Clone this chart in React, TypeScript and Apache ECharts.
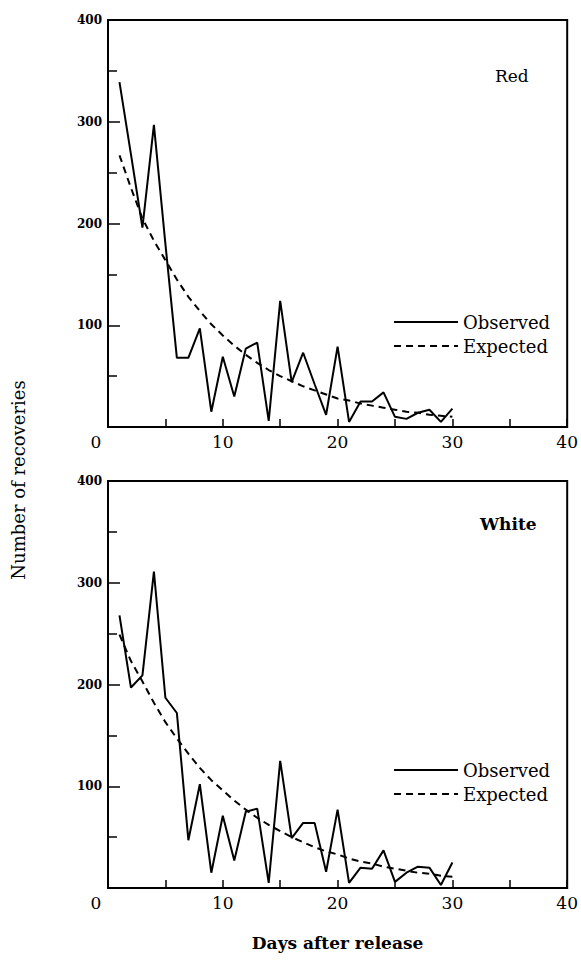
import { useEffect, useRef } from 'react';
import * as echarts from 'echarts';

const days = [1, 2, 3, 4, 5, 6, 7, 8, 9, 10, 11, 12, 13, 14, 15, 16, 17, 18, 19, 20, 21, 22, 23, 24, 25, 26, 27, 28, 29, 30];

const redObserved = [339, 268, 196, 297, 180, 68, 68, 97, 15, 69, 30, 77, 83, 6, 124, 44, 73, 42, 12, 79, 5, 25, 25, 34, 10, 8, 14, 17, 5, 18];
const redExpected = [267, 235, 205, 183, 164, 145, 128, 114, 101, 90, 80, 71, 63, 56, 50, 45, 40, 36, 32, 28, 26, 23, 21, 19, 17, 15, 14, 12, 11, 10];

const whiteObserved = [268, 197, 209, 311, 187, 172, 47, 102, 15, 71, 27, 75, 78, 5, 125, 49, 64, 64, 16, 77, 5, 20, 19, 37, 6, 15, 21, 20, 3, 25];
const whiteExpected = [249, 223, 203, 182, 163, 147, 132, 118, 106, 96, 86, 77, 69, 62, 56, 50, 45, 40, 36, 33, 29, 26, 24, 21, 19, 17, 15, 14, 12, 11];

const panelNames = ['Red', 'White'];
const seriesNames = ['Observed', 'Expected'];
const yAxisTitle = 'Number of recoveries';
const xAxisTitle = 'Days after release';

const FONT = '"DejaVu Serif", serif';

function pairs(values: number[]) {
  return days.map((d, i) => [d, values[i]]);
}

export default function App() {
  const ref = useRef<HTMLDivElement>(null);

  useEffect(() => {
    if (!ref.current) return;
    const chart = echarts.init(ref.current, null, { renderer: 'svg' });

    const grids = [
      { left: 108, top: 20, width: 460, height: 407 },
      { left: 108, top: 481, width: 460, height: 407 },
    ];

    const xAxes = grids.map((_, i) => ({
      type: 'value' as const,
      gridIndex: i,
      min: 0,
      max: 40,
      interval: 5,
      axisLine: { show: false },
      splitLine: { show: false },
      axisTick: { show: true, inside: true, length: 8, lineStyle: { color: '#000', width: 1.5 } },
      axisLabel: {
        color: '#000',
        fontFamily: FONT,
        fontSize: 17,
        margin: 6,
        formatter: (v: number) => (v === 0 ? '{z|0}' : v % 10 === 0 ? String(v) : ''),
        rich: { z: { fontFamily: FONT, fontSize: 17, color: '#000', padding: [0, 24, 0, 0] } },
      },
      name: i === 1 ? xAxisTitle : '',
      nameLocation: 'middle' as const,
      nameGap: 46,
      nameTextStyle: { fontFamily: FONT, fontSize: 17, fontWeight: 'bold' as const, color: '#000' },
    }));

    const yAxes = grids.map((_, i) => ({
      type: 'value' as const,
      gridIndex: i,
      min: 0,
      max: 400,
      interval: 100,
      axisLine: { show: false },
      splitLine: { show: false },
      axisTick: { show: true, inside: true, length: 12, lineStyle: { color: '#000', width: 1.5 } },
      minorTick: { show: true, splitNumber: 2, length: 9, lineStyle: { color: '#000', width: 1.5 } },
      axisLabel: {
        color: '#000',
        fontFamily: FONT,
        fontSize: 12,
        fontWeight: 'bold' as const,
        margin: 6,
        formatter: (v: number) => (v === 0 ? '' : String(v)),
      },
    }));

    const lineBase = { type: 'line' as const, symbol: 'none', animation: false, z: 3 };

    const series = [
      { ...lineBase, name: seriesNames[0], xAxisIndex: 0, yAxisIndex: 0, data: pairs(redObserved), lineStyle: { color: '#000', width: 2, type: 'solid' as const }, itemStyle: { color: '#000' } },
      { ...lineBase, name: seriesNames[1], xAxisIndex: 0, yAxisIndex: 0, data: pairs(redExpected), lineStyle: { color: '#000', width: 2, type: [7, 5] }, itemStyle: { color: '#000' } },
      { ...lineBase, name: seriesNames[0], xAxisIndex: 1, yAxisIndex: 1, data: pairs(whiteObserved), lineStyle: { color: '#000', width: 2, type: 'solid' as const }, itemStyle: { color: '#000' } },
      { ...lineBase, name: seriesNames[1], xAxisIndex: 1, yAxisIndex: 1, data: pairs(whiteExpected), lineStyle: { color: '#000', width: 2, type: [7, 5] }, itemStyle: { color: '#000' } },
    ];

    const legendBase = {
      orient: 'vertical' as const,
      left: 388,
      itemWidth: 64,
      itemHeight: 14,
      itemGap: 4,
      selectedMode: false,
      data: seriesNames,
      itemStyle: { opacity: 0 },
      textStyle: { fontFamily: FONT, fontSize: 18, color: '#000', lineHeight: 20 },
    };

    chart.setOption({
      animation: false,
      backgroundColor: '#fff',
      title: [
        { text: panelNames[0], left: 490, top: 62, textStyle: { fontFamily: FONT, fontSize: 17, fontWeight: 'normal', color: '#000' } },
        { text: panelNames[1], left: 475, top: 510, textStyle: { fontFamily: FONT, fontSize: 17, fontWeight: 'bold', color: '#000' } },
      ],
      legend: [
        { ...legendBase, top: 307 },
        { ...legendBase, top: 755 },
      ],
      grid: grids.map((g) => ({ ...g, show: true, borderColor: '#000', borderWidth: 2, backgroundColor: 'transparent' })),
      xAxis: xAxes,
      yAxis: yAxes,
      series,
      graphic: [
        {
          type: 'text',
          x: 18,
          y: 480,
          rotation: Math.PI / 2,
          style: { text: yAxisTitle, fontFamily: FONT, fontSize: 18, fill: '#000', align: 'center', verticalAlign: 'middle' },
        },
      ],
    });

    return () => chart.dispose();
  }, []);

  return <div ref={ref} style={{ position: 'absolute', left: 0, top: 0, width: 581, height: 961 }} />;
}
